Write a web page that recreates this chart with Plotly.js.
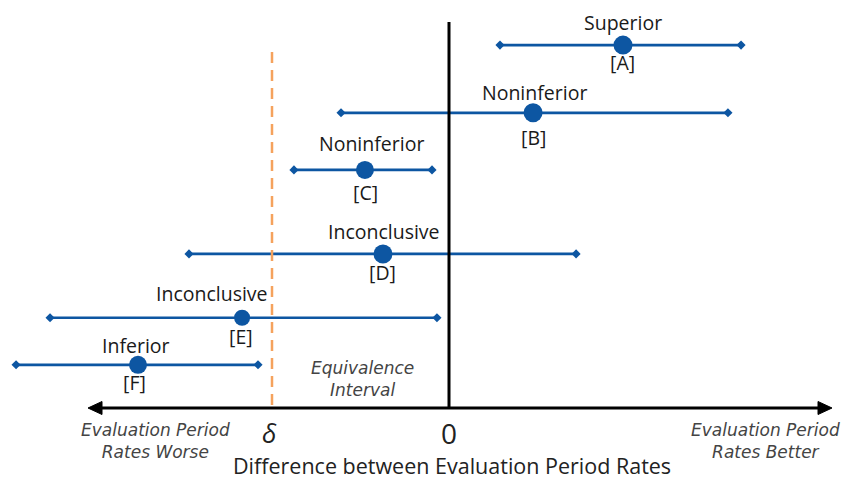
<!DOCTYPE html>
<html><head><meta charset="utf-8">
<script src="https://cdn.plot.ly/plotly-3.0.1.min.js"></script>
<style>html,body{margin:0;padding:0;background:#fff;}#chart{width:844px;height:480px;}</style>
</head><body><div id="chart"></div>
<script>
// ---- data ----
const ids        = ['[A]', '[B]', '[C]', '[D]', '[E]', '[F]'];
const outcomes   = ['Superior', 'Noninferior', 'Noninferior', 'Inconclusive', 'Inconclusive', 'Inferior'];
const estimates  = [0.983, 0.475, -0.475, -0.373, -1.169, -1.757];
const lowerCI    = [0.288, -0.610, -0.876, -1.469, -2.254, -2.446];
const upperCI    = [1.650, 1.576, -0.096, 0.718, -0.068, -1.079];
const rowPos     = [9.06, 7.65, 6.46, 4.71, 3.38, 2.40];
const delta      = -1.0;
const zeroLine   = 0;

// ---- style / layout helpers ----
const blue = '#0D56A2';
const orange = '#F5A25D';
const pointSizes = [19, 19, 18, 19, 16, 18];
const outcomeShiftY = [23, 20, 26, 22, 24, 19];
const outcomeShiftX = [0, 1, 7, 1, -30, -2];
const idShiftY = [-17, -25, -23, -19, -19, -18];
const idShiftX = [0, 0, 1, 0, -1, -4];
const font = 'Open Sans, Noto Sans, sans-serif';
const italicFont = 'DejaVu Sans, sans-serif';

const xMin = -449/177, xMax = 395/177;
const axisY = 1.5, yTop = 9.54;

// CI lines (one trace, null separated)
const ciX = [], ciY = [];
for (let i = 0; i < ids.length; i++) {
  ciX.push(lowerCI[i], upperCI[i], null);
  ciY.push(rowPos[i], rowPos[i], null);
}

const traces = [
  {x: ciX, y: ciY, mode: 'lines+markers', type: 'scatter', hoverinfo: 'skip',
   line: {color: blue, width: 2.7},
   marker: {symbol: 'diamond', size: 7, color: blue, opacity: 1}},
  {x: estimates, y: rowPos, mode: 'markers', type: 'scatter',
   marker: {symbol: 'circle', size: pointSizes, color: blue, opacity: 1, line: {width: 0}}}
];

const annotations = [];
for (let i = 0; i < ids.length; i++) {
  annotations.push({x: estimates[i], y: rowPos[i], xref: 'x', yref: 'y', text: outcomes[i],
    showarrow: false, yshift: outcomeShiftY[i], xshift: outcomeShiftX[i],
    font: {family: font, size: 19.5, color: '#1a1a1a'}});
  annotations.push({x: estimates[i], y: rowPos[i], xref: 'x', yref: 'y', text: ids[i],
    showarrow: false, yshift: idShiftY[i], xshift: idShiftX[i],
    font: {family: font, size: 19.5, color: '#1a1a1a'}});
}
annotations.push(
  {x: zeroLine, y: axisY, xref: 'x', yref: 'y', text: '0', showarrow: false, yshift: -25,
   font: {family: font, size: 28, color: '#222'}},
  {x: delta, y: axisY, xref: 'x', yref: 'y', text: '<i>δ</i>', showarrow: false, yshift: -25, xshift: -3,
   font: {family: font, size: 26, color: '#222'}},
  {x: -1.661, y: axisY, xref: 'x', yref: 'y', text: '<i>Evaluation Period<br>Rates Worse</i>', showarrow: false,
   yshift: -33, font: {family: italicFont, size: 17, color: '#444'}},
  {x: 1.787, y: axisY, xref: 'x', yref: 'y', text: '<i>Evaluation Period<br>Rates Better</i>', showarrow: false,
   yshift: -33, font: {family: italicFont, size: 17, color: '#444'}},
  {x: -0.4915, y: axisY, xref: 'x', yref: 'y', text: '<i>Equivalence<br>Interval</i>', showarrow: false,
   yshift: 29, font: {family: italicFont, size: 17, color: '#444'}},
  {x: 0.019, y: axisY, xref: 'x', yref: 'y', text: 'Difference between Evaluation Period Rates', showarrow: false,
   yshift: -57, font: {family: font, size: 21.5, color: '#222'}}
);

const xL = (88-449)/177, xR = (832-449)/177;
const headLen = 14/177, headHalf = 6.5/48;
const shapes = [
  {type: 'line', xref: 'x', yref: 'y', x0: xL + headLen*0.8, x1: xR - headLen*0.8, y0: axisY, y1: axisY,
   line: {color: '#000', width: 3}},
  {type: 'path', xref: 'x', yref: 'y', fillcolor: '#000', line: {color: '#000', width: 1},
   path: `M ${xL} ${axisY} L ${xL+headLen} ${axisY+headHalf} L ${xL+headLen} ${axisY-headHalf} Z`},
  {type: 'path', xref: 'x', yref: 'y', fillcolor: '#000', line: {color: '#000', width: 1},
   path: `M ${xR} ${axisY} L ${xR-headLen} ${axisY+headHalf} L ${xR-headLen} ${axisY-headHalf} Z`},
  {type: 'line', xref: 'x', yref: 'y', x0: zeroLine, x1: zeroLine, y0: axisY, y1: yTop,
   line: {color: '#000', width: 3}},
  {type: 'line', xref: 'x', yref: 'y', x0: delta, x1: delta, y0: axisY + 0.06, y1: 9.06,
   line: {color: orange, width: 2.5, dash: '11px,7px'}}
];

const layout = {
  width: 844, height: 480,
  margin: {l: 0, r: 0, t: 0, b: 0},
  paper_bgcolor: '#fff', plot_bgcolor: '#fff',
  showlegend: false,
  xaxis: {range: [xMin, xMax], visible: false, fixedrange: true},
  yaxis: {range: [0, 10], visible: false, fixedrange: true},
  shapes: shapes,
  annotations: annotations
};

Plotly.newPlot('chart', traces, layout, {displayModeBar: false, staticPlot: true});
</script>
</body></html>
